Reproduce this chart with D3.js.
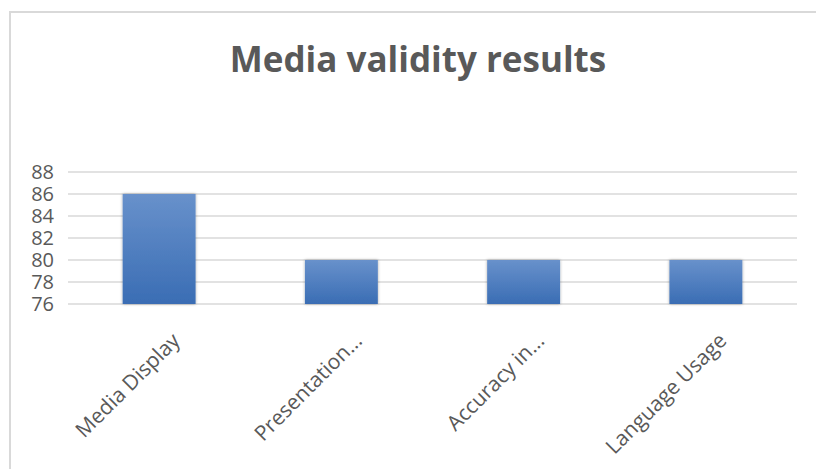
<!DOCTYPE html>
<html><head><meta charset="utf-8">
<script src="https://cdn.jsdelivr.net/npm/d3@7"></script>
<style>body{margin:0;background:#fff}svg{display:block}</style>
</head><body>
<svg id="c" width="816" height="469"></svg>
<script>
const title = "Media validity results";
const categories = ["Media Display", "Presentation...", "Accuracy in...", "Language Usage"];
const values = [86, 80, 80, 80];
const yTicks = [76, 78, 80, 82, 84, 86, 88];

const svg = d3.select("#c");
const W = 816, H = 469;
const m = {left: 68, right: 19, top: 172, bottom: 165};

svg.append("rect").attr("x", 10).attr("y", 12).attr("width", 830).attr("height", 480)
  .attr("fill", "#fff").attr("stroke", "#d9d9d9").attr("stroke-width", 2);

const defs = svg.append("defs");
const g1 = defs.append("linearGradient").attr("id", "bg").attr("x1", 0).attr("y1", 0).attr("x2", 0).attr("y2", 1);
g1.append("stop").attr("offset", "0%").attr("stop-color", "#6891cb");
g1.append("stop").attr("offset", "100%").attr("stop-color", "#3a6db4");
const f = defs.append("filter").attr("id", "sh").attr("x", "-20%").attr("y", "-20%").attr("width", "140%").attr("height", "140%");
f.append("feDropShadow").attr("dx", 0).attr("dy", 0).attr("stdDeviation", 1.5).attr("flood-color", "#000").attr("flood-opacity", 0.35);

const x = d3.scaleBand().domain(categories).range([m.left, W - m.right]).paddingInner(0.6).paddingOuter(0.3);
const y = d3.scaleLinear().domain([76, 88]).range([304, 172]);

// gridlines
svg.append("g").selectAll("line").data(yTicks).join("line")
  .attr("x1", m.left).attr("x2", W - m.right)
  .attr("y1", d => y(d)).attr("y2", d => y(d))
  .attr("stroke", "#d9d9d9").attr("stroke-width", 1.5);

// y axis
const ya = svg.append("g").attr("transform", `translate(${m.left},0)`)
  .call(d3.axisLeft(y).tickValues(yTicks).tickSize(0).tickPadding(14));
ya.select(".domain").remove();
ya.selectAll("text").attr("fill", "#595959").attr("font-family", "'Open Sans', sans-serif").attr("font-size", 20);

// bars
svg.append("g").selectAll("rect").data(values).join("rect")
  .attr("x", (d, i) => x(categories[i]))
  .attr("width", x.bandwidth())
  .attr("y", d => y(d))
  .attr("height", d => y(76) - y(d))
  .attr("fill", "url(#bg)")
  .attr("filter", "url(#sh)");

// x axis
const xa = svg.append("g").attr("transform", `translate(0,${y(76)})`)
  .call(d3.axisBottom(x).tickSize(0));
xa.select(".domain").remove();
xa.selectAll("text")
  .attr("fill", "#595959").attr("font-family", "'Open Sans', sans-serif").attr("font-size", 21)
  .attr("text-anchor", "end").attr("dy", 0).attr("y", 0)
  .attr("transform", "translate(22,38) rotate(-45)");

svg.append("text").attr("x", 418).attr("y", 72).attr("text-anchor", "middle")
  .attr("font-family", "'Open Sans', sans-serif").attr("font-weight", "bold").attr("font-size", 35)
  .attr("fill", "#595959").text(title);
</script>
</body></html>
